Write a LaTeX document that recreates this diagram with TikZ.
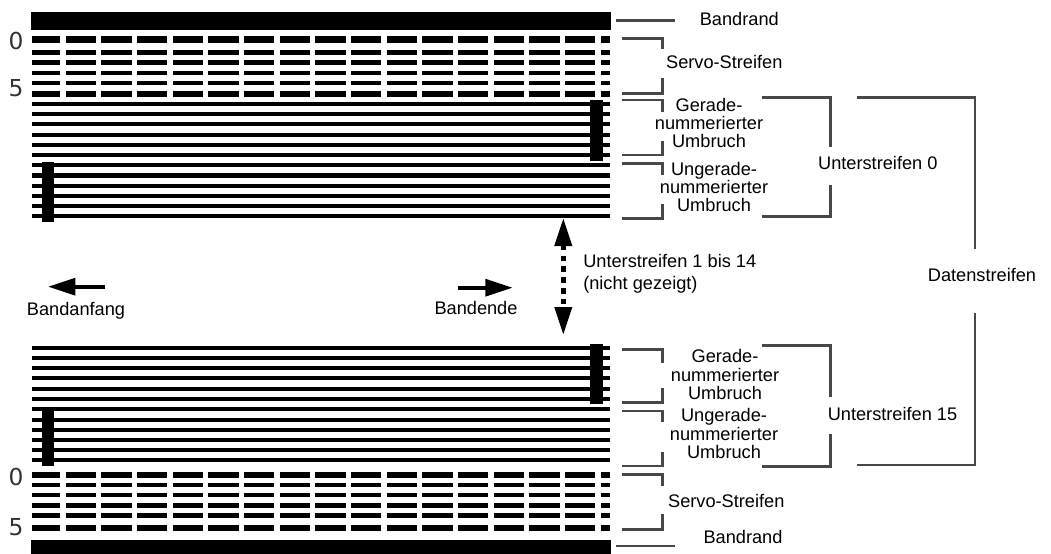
\documentclass[tikz,border=0pt]{standalone}
\usepackage{fontspec}
\setmainfont{Liberation Sans}
\newfontfamily\digitfont{DejaVu Sans}
\usepackage{xcolor}
\usetikzlibrary{arrows.meta,positioning,calc}
\definecolor{bracketgray}{HTML}{484848}

\begin{document}
\begin{tikzpicture}[x=0.75pt,y=-0.75pt,
  stripe/.style={line width=3.1pt},
  servoedge/.style={line width=4.8pt},
  servomid/.style={line width=3.6pt},
  bracket/.style={bracketgray,line width=2pt,line join=miter},
  flow/.style={-{Triangle[length=20.5pt,width=12.5pt]},line width=3pt},
  gapflow/.style={{Triangle[length=21pt,width=12.5pt]}-{Triangle[length=21pt,width=12.5pt]},line width=3.6pt,dash pattern=on 4.2pt off 3.9pt},
  lab/.style={font=\fontsize{13.65}{13.7}\selectfont,inner sep=0pt,align=center},
  digit/.style={font=\digitfont\fontsize{17.5}{17.5}\selectfont,text=black!80,inner sep=0pt}]
\useasboundingbox (0,0) rectangle (1051,554);
\fill (31,12) rectangle (611,30);
\fill (31,539.5) rectangle (611,554);
\draw[servoedge] (31.5,39.5)--(609.7,39.5);
\foreach \yy in {52.5,62.5,73,83} \draw[servomid] (31.5,\yy)--(609.7,\yy);
\draw[servoedge] (31.5,93.7)--(609.7,93.7);
\draw[servoedge] (31.5,475)--(609.7,475);
\foreach \yy in {485,495,505.3,515.3} \draw[servomid] (31.5,\yy)--(609.7,\yy);
\draw[servoedge] (31.5,528)--(609.7,528);
\foreach \k in {0,...,15} {
  \fill[white] ({60.3+35.67*\k},35) rectangle ({65.7+35.67*\k},98);
  \fill[white] ({60.3+35.67*\k},471) rectangle ({65.7+35.67*\k},532);
}
\foreach \yy in {104,114.2,124.4,134.6,144.8,155,165.2,175.5,185.7,195.9,206,216.2}
  \draw[stripe] (31.5,\yy)--(609.7,\yy);
\foreach \yy in {347.7,358,368.2,378.4,388.7,399,409.3,419.6,429.7,439.9,450.1,460.3}
  \draw[stripe] (31.5,\yy)--(609.7,\yy);
\fill (590,100) rectangle (603.3,160.7);
\fill (41.7,162.3) rectangle (54.3,222);
\fill (590,344) rectangle (603.3,404);
\fill (41.7,406.7) rectangle (54.3,466);
\node[digit] (zeroa) at (16,41) {0};
\node[digit] (fivea) at (16,88.5) {5};
\node[digit] (zerob) at (16,477) {0};
\node[digit] (fiveb) at (16,527) {5};
\node[lab] (randa) at (739.3,19) {Bandrand};
\node[lab] (servoa) at (724.3,62) {Servo-Streifen};
\node[lab] (geradea) at (709,123) {Gerade-\\nummerierter\\Umbruch};
\node[lab] (ungeradea) at (714,187) {Ungerade-\\nummerierter\\Umbruch};
\node[lab] (sub0) at (877.8,162.7) {Unterstreifen 0};
\node[lab] (daten) at (982,275) {Datenstreifen};
\node[lab] (geradeb) at (725,374.5) {Gerade-\\nummerierter\\Umbruch};
\node[lab] (ungeradeb) at (724,433.5) {Ungerade-\\nummerierter\\Umbruch};
\node[lab] (sub15) at (892.5,414.3) {Unterstreifen 15};
\node[lab] (servob) at (726.3,501) {Servo-Streifen};
\node[lab] (randb) at (743,537.3) {Bandrand};
\node[lab,align=left,anchor=west] (subrest) at (583,274) {Unterstreifen 1 bis 14\\[2.5pt](nicht gezeigt)};
\node[lab] (anfang) at (76,310.5) {Bandanfang};
\node[lab] (ende) at (476,308) {Bandende};
\coordinate (anfangtail) at (105,286.7);
\coordinate (anfangtip) at (48,286.7);
\coordinate (endetail) at (457.7,287.7);
\coordinate (endetip) at (512.7,287.7);
\coordinate (gaptop) at (563.3,218);
\coordinate (gapbot) at (563.3,335);
\draw[flow] (anfangtail)--(anfangtip);
\draw[flow] (endetail)--(endetip);
\draw[gapflow] (gaptop)--(gapbot);
\draw[bracket] (616,20.7)--(675,20.7);
\draw[bracket] (621.7,38.3)--(662.3,38.3)--(662.3,49);
\draw[bracket] (662.3,78)--(662.3,93.5)--(621.7,93.5);
\draw[bracket] (621.7,100)--(662.3,100)--(662.3,111.7);
\draw[bracket] (662.3,140.7)--(662.3,155)--(621.7,155);
\draw[bracket] (621.7,163.3)--(662.3,163.3)--(662.3,175);
\draw[bracket] (662.3,204)--(662.3,218.3)--(621.7,218.3);
\draw[bracket] (761.7,97.3)--(830.5,97.3)--(830.5,146.7);
\draw[bracket] (830.5,185)--(830.5,216.7)--(761.7,216.7);
\draw[bracket] (856.7,97.3)--(975,97.3)--(975,249.3);
\draw[bracket] (975,313.3)--(975,465)--(856.7,465);
\draw[bracket] (761.7,345.5)--(830.5,345.5)--(830.5,396.7);
\draw[bracket] (830.5,434)--(830.5,466.3)--(761.7,466.3);
\draw[bracket] (621.7,349.3)--(662.3,349.3)--(662.3,363);
\draw[bracket] (662.3,388.3)--(662.3,402.7)--(621.7,402.7);
\draw[bracket] (621.7,411)--(662.3,411)--(662.3,421.7);
\draw[bracket] (662.3,451.7)--(662.3,466)--(621.7,466);
\draw[bracket] (621.7,474.3)--(662.3,474.3)--(662.3,486);
\draw[bracket] (662.3,514)--(662.3,529.3)--(621.7,529.3);
\draw[bracket] (616,546)--(675,546);
\end{tikzpicture}
\end{document}
